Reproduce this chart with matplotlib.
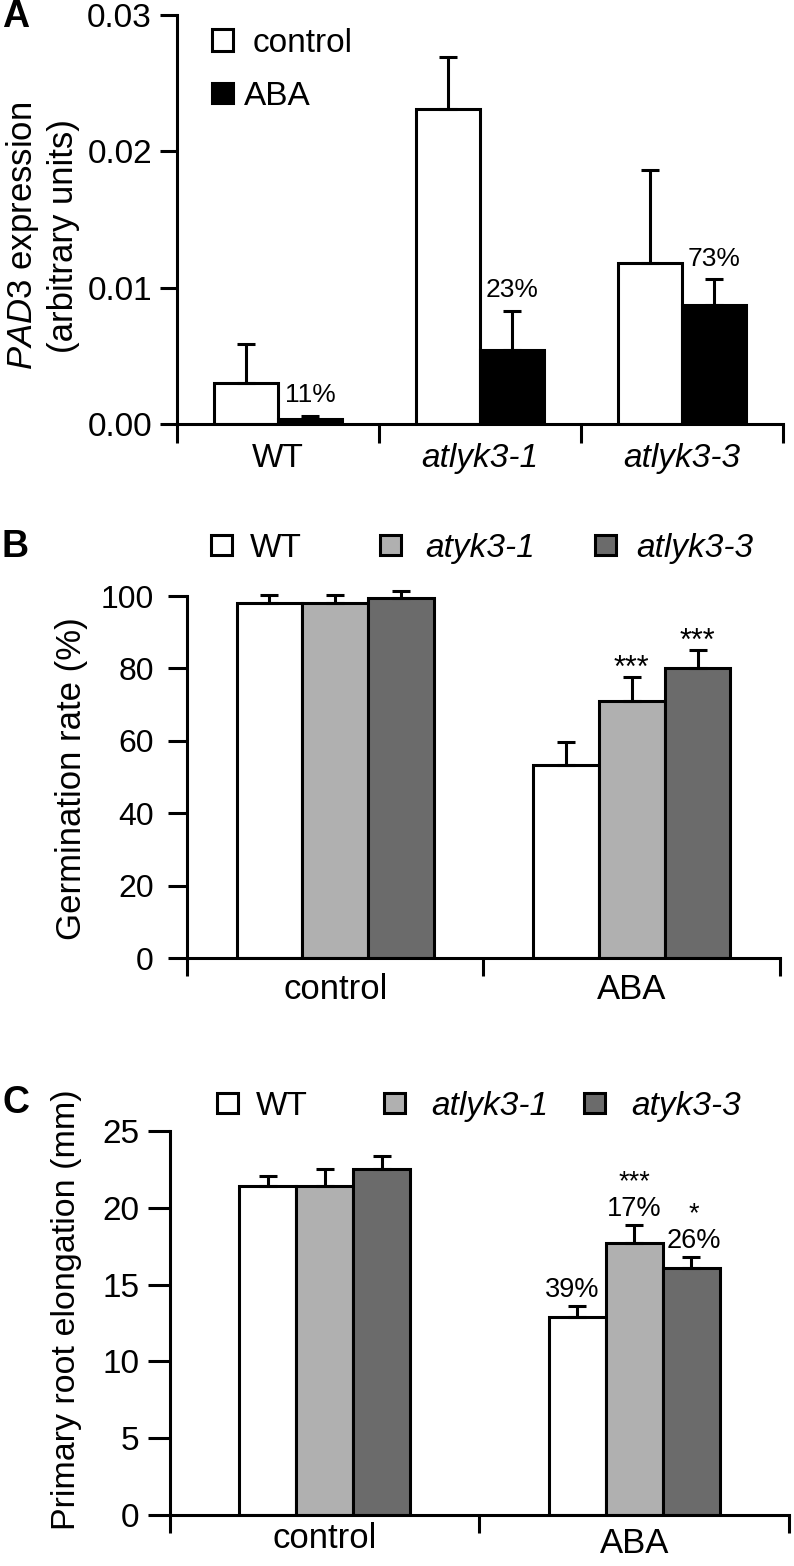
import numpy as np
import matplotlib
matplotlib.use('Agg')
import matplotlib.pyplot as plt
import matplotlib.transforms as mtransforms
from matplotlib.patches import Rectangle

plt.rcParams['font.family'] = ['Liberation Sans', 'DejaVu Sans']
plt.rcParams['mathtext.fontset'] = 'custom'
plt.rcParams['mathtext.it'] = 'Liberation Sans:italic'
plt.rcParams['mathtext.rm'] = 'Liberation Sans'

# ---- data ----
# A: PAD3 expression
a_groups = ['WT', 'atlyk3-1', 'atlyk3-3']
a_control = [0.0030, 0.0231, 0.0118]
a_control_err = [0.0029, 0.0038, 0.0068]
a_aba = [0.0004, 0.0054, 0.0087]
a_aba_err = [0.0002, 0.0029, 0.0019]
a_pct = ['11%', '23%', '73%']

# B: germination rate (%)
b_treat = ['control', 'ABA']
b_wt = [98.0, 53.3]
b_wt_err = [2.3, 6.4]
b_lyk31 = [98.0, 71.0]
b_lyk31_err = [2.3, 6.6]
b_lyk33 = [99.5, 80.0]
b_lyk33_err = [2.0, 5.1]

# C: primary root elongation (mm)
c_treat = ['control', 'ABA']
c_wt = [21.4, 12.9]
c_wt_err = [0.7, 0.7]
c_lyk31 = [21.4, 17.7]
c_lyk31_err = [1.1, 1.2]
c_lyk33 = [22.5, 16.1]
c_lyk33_err = [0.9, 0.7]
c_pct = ['39%', '17%', '26%']
c_stars = ['', '***', '*']

W, H = 794, 1566
LW = 2.2
GRAY = '#b0b0b0'
DARK = '#6b6b6b'

fig = plt.figure(figsize=(W / 100, H / 100), dpi=100)


def px_axes(left, top, right, bottom):
    return fig.add_axes([left / W, 1 - bottom / H, (right - left) / W, (bottom - top) / H])


def style(ax, ngroups, fs_tick, ytick_len, ypad):
    for s in ['top', 'right']:
        ax.spines[s].set_visible(False)
    for s in ['left', 'bottom']:
        ax.spines[s].set_linewidth(LW)
    ax.set_xlim(0, ngroups)
    ax.set_xticks(np.arange(ngroups + 1))
    ax.set_xticklabels([])
    ax.tick_params(axis='x', length=14, width=LW, direction='out')
    ax.tick_params(axis='y', length=ytick_len, width=LW, labelsize=fs_tick, pad=ypad)


def group_labels(ax, labels, drops, styles, **kw):
    trans = mtransforms.blended_transform_factory(ax.transData, ax.transAxes)
    for i, (lab, d, st) in enumerate(zip(labels, drops, styles)):
        off = mtransforms.ScaledTranslation(0, -d / 72, fig.dpi_scale_trans)
        ax.text(i + 0.5, 0, lab, transform=trans + off, ha='center', va='top',
                style=st, **kw)


def key(x, y, color, label, italic=False, size=24, gap=18, h=20):
    fig.patches.append(Rectangle((x / W, 1 - (y + h / 2) / H), 21 / W, h / H,
                                 transform=fig.transFigure, fc=color, ec='black', lw=LW))
    fig.text((x + 21 + gap) / W, 1 - y / H, label, fontsize=size,
             style='italic' if italic else 'normal', va='center_baseline')


def bars(ax, x, vals, errs, color, width):
    ax.bar(x, vals, width=width, color=color, edgecolor='black', linewidth=LW, zorder=2)
    ax.errorbar(x, vals, yerr=[np.zeros(len(vals)), errs], fmt='none', ecolor='black',
                elinewidth=LW, capsize=6.5, capthick=LW, zorder=3, clip_on=False)


# ---- panel A ----
axA = px_axes(177, 15, 783, 424)
xa = np.arange(len(a_groups)) + 0.5
wa = 0.317
bars(axA, xa - wa / 2, a_control, a_control_err, 'white', wa)
bars(axA, xa + wa / 2, a_aba, a_aba_err, 'black', wa)
axA.set_ylim(0, 0.03)
axA.set_yticks([0, 0.01, 0.02, 0.03])
axA.set_yticklabels(['0.00', '0.01', '0.02', '0.03'])
style(axA, 3, 24, 12, 6)
group_labels(axA, a_groups, [14, 14, 14], ['normal', 'italic', 'italic'], fontsize=24)
for xi, v, e, s in zip(xa + wa / 2, a_aba, a_aba_err, a_pct):
    axA.annotate(s, (xi, v + e), xytext=(0, 10), textcoords='offset points',
                 ha='center', va='baseline', fontsize=19)
fig.text(42 / W, 1 - 236 / H, '$\\it{PAD3}$ expression\n(arbitrary units)', rotation=90,
         ha='center', va='center', fontsize=25, linespacing=1.2, multialignment='center')
fig.text(2 / W, 1 - 17 / H, 'A', fontsize=27, fontweight='bold', va='center')
key(212, 40, 'white', 'control', gap=20, h=22)
key(212, 93, 'black', 'ABA', gap=11, h=20)

# ---- panel B ----
axB = px_axes(187, 596, 780, 958)
xb = np.arange(len(b_treat)) + 0.5
wb = 0.222
bars(axB, xb - wb, b_wt, b_wt_err, 'white', wb)
bars(axB, xb, b_lyk31, b_lyk31_err, GRAY, wb)
bars(axB, xb + wb, b_lyk33, b_lyk33_err, DARK, wb)
axB.set_ylim(0, 100)
axB.set_yticks(np.arange(0, 101, 20))
style(axB, 2, 23, 14, 10)
axB.tick_params(axis='x', length=13)
group_labels(axB, b_treat, [11, 11], ['normal', 'normal'], fontsize=25)
for xi, v, e in [(xb[1], b_lyk31[1], b_lyk31_err[1]),
                 (xb[1] + wb, b_lyk33[1], b_lyk33_err[1])]:
    axB.annotate('***', (xi, v + e), xytext=(0, 0), textcoords='offset points',
                 ha='center', va='baseline', fontsize=22)
fig.text(72 / W, 1 - 779 / H, 'Germination rate (%)', rotation=90,
         ha='center', va='center', fontsize=25)
fig.text(2 / W, 1 - 547 / H, 'B', fontsize=27, fontweight='bold', va='center')
key(211, 545, 'white', 'WT')
key(380, 545, GRAY, 'atyk3-1', italic=True, gap=24)
key(595, 545, DARK, 'atlyk3-3', italic=True, gap=20)

# ---- panel C ----
axC = px_axes(170, 1131, 789, 1515)
xc = np.arange(len(c_treat)) + 0.5
wc = 0.184
bars(axC, xc - wc, c_wt, c_wt_err, 'white', wc)
bars(axC, xc, c_lyk31, c_lyk31_err, GRAY, wc)
bars(axC, xc + wc, c_lyk33, c_lyk33_err, DARK, wc)
axC.set_ylim(0, 25)
axC.set_yticks(np.arange(0, 26, 5))
style(axC, 2, 24, 16, 6)
axC.tick_params(axis='x', length=13)
group_labels(axC, c_treat, [5, 8.5], ['normal', 'normal'], fontsize=25)
tops = [(xc[1] - wc, c_wt[1] + c_wt_err[1]),
        (xc[1], c_lyk31[1] + c_lyk31_err[1]),
        (xc[1] + wc, c_lyk33[1] + c_lyk33_err[1])]
dx_pct = [-4, 0, 2]
for (xi, top), p, s, dp in zip(tops, c_pct, c_stars, dx_pct):
    label = s + '\n' + p if s else p
    axC.annotate(label, (xi, top), xytext=(dp, 2), textcoords='offset points',
                 ha='center', va='bottom', fontsize=19.5, linespacing=1.05,
                 multialignment='center')
fig.text(67 / W, 1 - 1310 / H, 'Primary root elongation (mm)', rotation=90,
         ha='center', va='center', fontsize=24.5)
fig.text(2 / W, 1 - 1103 / H, 'C', fontsize=27, fontweight='bold', va='center')
key(217, 1103, 'white', 'WT')
key(384, 1103, GRAY, 'atlyk3-1', italic=True, gap=26)
key(584, 1103, DARK, 'atyk3-3', italic=True, gap=26)

fig.savefig('out.png', dpi=100)
